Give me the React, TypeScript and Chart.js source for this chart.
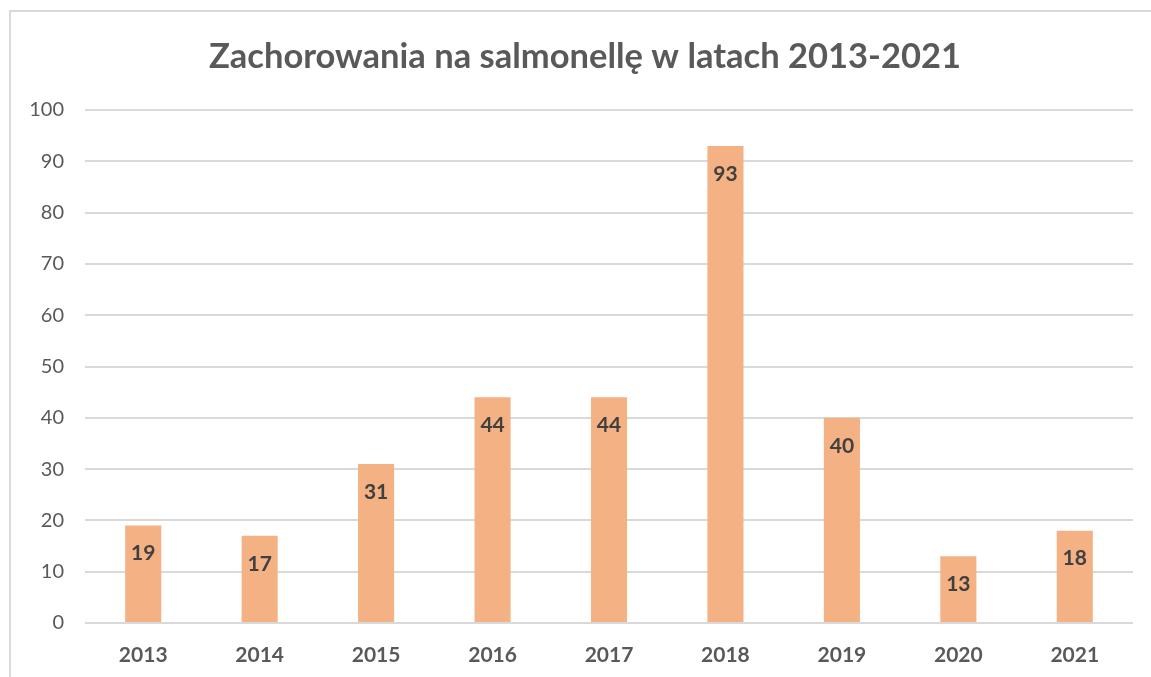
import React, { useEffect, useRef } from "react";
import { Chart, registerables } from "chart.js";

Chart.register(...registerables);

const TITLE = "Zachorowania na salmonellę w latach 2013-2021";
const categories = ["2013", "2014", "2015", "2016", "2017", "2018", "2019", "2020", "2021"];
const cases = [19, 17, 31, 44, 44, 93, 40, 13, 18];
const yTicks = [0, 10, 20, 30, 40, 50, 60, 70, 80, 90, 100];

const FONT = "Lato, 'Open Sans', sans-serif";

const dataLabelPlugin = {
  id: "insideEndLabels",
  afterDatasetsDraw(chart: any) {
    const ctx = chart.ctx;
    const meta = chart.getDatasetMeta(0);
    ctx.save();
    ctx.font = `bold 21px ${FONT}`;
    ctx.fillStyle = "#404040";
    ctx.textAlign = "center";
    ctx.textBaseline = "middle";
    meta.data.forEach((bar: any, i: number) => {
      const v = chart.data.datasets[0].data[i];
      ctx.fillText(String(v), bar.x, bar.y + 28);
    });
    ctx.restore();
  },
};

const titlePlugin = {
  id: "centeredTitle",
  afterDraw(chart: any) {
    const ctx = chart.ctx;
    ctx.save();
    ctx.font = `bold 34.5px ${FONT}`;
    ctx.fillStyle = "#595959";
    ctx.textAlign = "center";
    ctx.textBaseline = "middle";
    ctx.fillText(TITLE, 585, 57);
    ctx.restore();
  },
};

export default function App() {
  const ref = useRef<HTMLCanvasElement | null>(null);
  useEffect(() => {
    if (!ref.current) return;
    const chart = new Chart(ref.current, {
      type: "bar",
      data: {
        labels: categories,
        datasets: [
          {
            label: "Zachorowania",
            data: cases,
            backgroundColor: "#F4B183",
            borderWidth: 0,
            categoryPercentage: 1,
            barPercentage: 0.31,
          },
        ],
      },
      options: {
        responsive: false,
        animation: false,
        layout: { padding: { top: 110, right: 18, bottom: 0, left: 0 } },
        plugins: {
          legend: { display: false },
          tooltip: { enabled: false },
          title: { display: false },
        },
        scales: {
          x: {
            offset: true,
            grid: { display: false, drawTicks: false },
            border: { display: false },
            ticks: {
              color: "#595959",
              font: { family: FONT, size: 21, weight: "bold" },
              padding: 20,
            },
            afterFit: (s: any) => {
              s.height = 54;
            },
          },
          y: {
            min: 0,
            max: 100,
            afterBuildTicks: (s: any) => {
              s.ticks = yTicks.map((v) => ({ value: v }));
            },
            grid: { color: "#d9d9d9", lineWidth: 2, drawTicks: false },
            border: { display: false },
            ticks: {
              color: "#595959",
              font: { family: FONT, size: 20 },
              padding: 21,
            },
            afterFit: (s: any) => {
              s.width = 85;
            },
          },
        },
      },
      plugins: [dataLabelPlugin, titlePlugin],
    });
    return () => chart.destroy();
  }, []);

  return (
    <div>
      <div
        style={{
          position: "fixed",
          left: 9,
          top: 10,
          right: 0,
          bottom: 0,
          borderLeft: "2px solid #d9d9d9",
          borderTop: "2px solid #d9d9d9",
          background: "#ffffff",
        }}
      />
      <canvas
        ref={ref}
        width={1151}
        height={677}
        style={{ position: "fixed", left: 0, top: 0, width: 1151, height: 677 }}
      />
    </div>
  );
}
